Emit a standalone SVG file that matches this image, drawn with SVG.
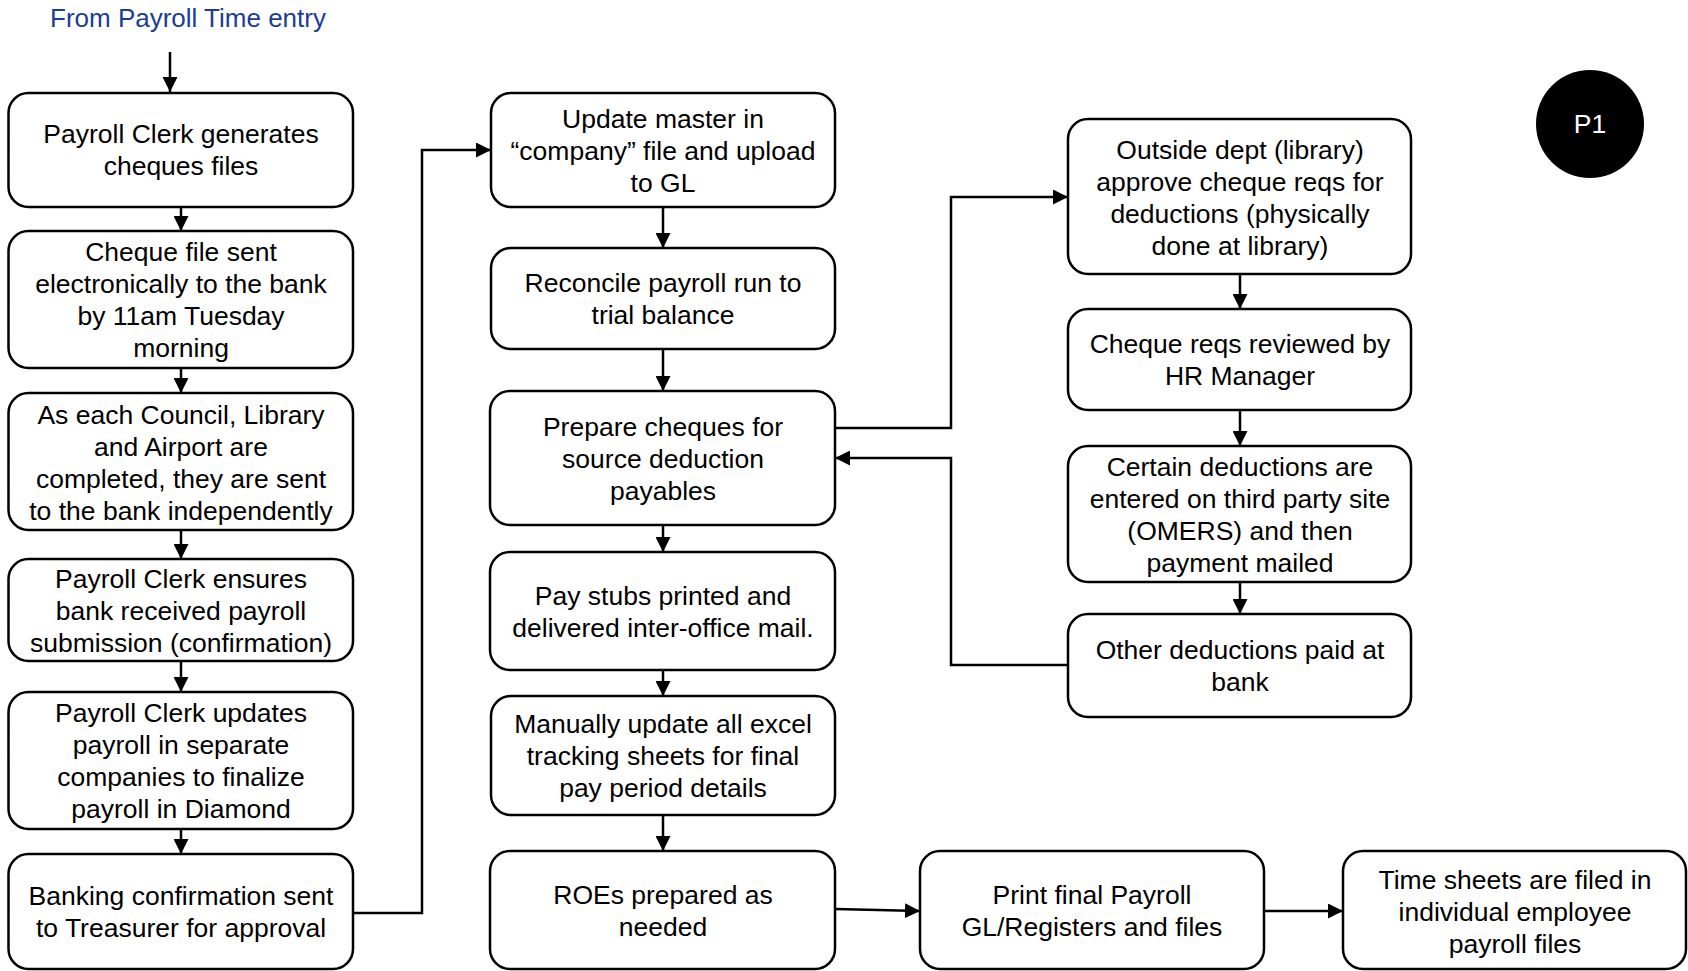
<svg xmlns="http://www.w3.org/2000/svg" width="1688" height="971" viewBox="0 0 1688 971">
  <style>
    .box { fill: #ffffff; stroke: #000000; stroke-width: 2.5; }
    .lbl { font-family: "Liberation Sans", Arial, sans-serif; font-size: 26.5px; fill: #000000; text-anchor: middle; }
    .title { font-family: "Liberation Sans", Arial, sans-serif; font-size: 26px; fill: #1b3d96; text-anchor: middle; }
    .conn { fill: none; stroke: #000000; stroke-width: 2.5; marker-end: url(#arrow); }
    .plain { fill: none; stroke: #000000; stroke-width: 2.5; }
  </style>
  <defs>
    <marker id="arrow" markerUnits="userSpaceOnUse" markerWidth="15" markerHeight="15" refX="15" refY="7.5" orient="auto">
      <path d="M0,0 L15,7.5 L0,15 z" fill="#000000"/>
    </marker>
  </defs>
  <rect width="1688" height="971" fill="#ffffff"/>

  <text class="title" x="188" y="27">From Payroll Time entry</text>

  <!-- connectors -->
  <g id="connectors">
    <line class="conn" x1="170" y1="52" x2="170" y2="92"/>
    <line class="conn" x1="181" y1="207" x2="181" y2="231"/>
    <line class="conn" x1="181" y1="368" x2="181" y2="393"/>
    <line class="conn" x1="181" y1="530" x2="181" y2="559"/>
    <line class="conn" x1="181" y1="661" x2="181" y2="692"/>
    <line class="conn" x1="181" y1="829" x2="181" y2="854"/>
    <polyline class="conn" points="353,913 422,913 422,150 491,150"/>
    <line class="conn" x1="663" y1="207" x2="663" y2="248"/>
    <line class="conn" x1="663" y1="349" x2="663" y2="391"/>
    <line class="conn" x1="663" y1="525" x2="663" y2="552"/>
    <line class="conn" x1="663" y1="670" x2="663" y2="696"/>
    <line class="conn" x1="663" y1="815" x2="663" y2="851"/>
    <polyline class="conn" points="835,428 951,428 951,197 1068,197"/>
    <polyline class="conn" points="1068,665 951,665 951,458 835,458"/>
    <line class="conn" x1="1240" y1="274" x2="1240" y2="309"/>
    <line class="conn" x1="1240" y1="410" x2="1240" y2="446"/>
    <line class="conn" x1="1240" y1="582" x2="1240" y2="614"/>
    <line class="conn" x1="835" y1="909" x2="920" y2="911"/>
    <line class="conn" x1="1264" y1="911" x2="1343" y2="911"/>
  </g>

  <!-- left column -->
  <g id="generate-cheques">
    <rect class="box" x="8.5" y="93" width="344.5" height="114" rx="20"/>
    <text class="lbl" x="181" y="143">Payroll Clerk generates</text>
    <text class="lbl" x="181" y="175">cheques files</text>
  </g>
  <g id="send-cheque-file">
    <rect class="box" x="8.5" y="231" width="344.5" height="137" rx="20"/>
    <text class="lbl" x="181" y="261">Cheque file sent</text>
    <text class="lbl" x="181" y="293">electronically to the bank</text>
    <text class="lbl" x="181" y="325">by 11am Tuesday</text>
    <text class="lbl" x="181" y="357">morning</text>
  </g>
  <g id="send-independently">
    <rect class="box" x="8.5" y="393" width="344.5" height="137" rx="20"/>
    <text class="lbl" x="181" y="424">As each Council, Library</text>
    <text class="lbl" x="181" y="456">and Airport are</text>
    <text class="lbl" x="181" y="488">completed, they are sent</text>
    <text class="lbl" x="181" y="520">to the bank independently</text>
  </g>
  <g id="ensure-received">
    <rect class="box" x="8.5" y="559" width="344.5" height="102" rx="20"/>
    <text class="lbl" x="181" y="588">Payroll Clerk ensures</text>
    <text class="lbl" x="181" y="620">bank received payroll</text>
    <text class="lbl" x="181" y="652">submission (confirmation)</text>
  </g>
  <g id="update-companies">
    <rect class="box" x="8.5" y="692" width="344.5" height="137" rx="20"/>
    <text class="lbl" x="181" y="722">Payroll Clerk updates</text>
    <text class="lbl" x="181" y="754">payroll in separate</text>
    <text class="lbl" x="181" y="786">companies to finalize</text>
    <text class="lbl" x="181" y="818">payroll in Diamond</text>
  </g>
  <g id="banking-confirmation">
    <rect class="box" x="8.5" y="854" width="344.5" height="115" rx="20"/>
    <text class="lbl" x="181" y="905">Banking confirmation sent</text>
    <text class="lbl" x="181" y="937">to Treasurer for approval</text>
  </g>

  <!-- middle column -->
  <g id="update-master">
    <rect class="box" x="491" y="93" width="344" height="114" rx="20"/>
    <text class="lbl" x="663" y="128">Update master in</text>
    <text class="lbl" x="663" y="160">“company” file and upload</text>
    <text class="lbl" x="663" y="192">to GL</text>
  </g>
  <g id="reconcile">
    <rect class="box" x="491" y="248" width="344" height="101" rx="20"/>
    <text class="lbl" x="663" y="292">Reconcile payroll run to</text>
    <text class="lbl" x="663" y="324">trial balance</text>
  </g>
  <g id="prepare-cheques">
    <rect class="box" x="490" y="391" width="345" height="134" rx="20"/>
    <text class="lbl" x="663" y="436">Prepare cheques for</text>
    <text class="lbl" x="663" y="468">source deduction</text>
    <text class="lbl" x="663" y="500">payables</text>
  </g>
  <g id="pay-stubs">
    <rect class="box" x="490" y="552" width="345" height="118" rx="20"/>
    <text class="lbl" x="663" y="605">Pay stubs printed and</text>
    <text class="lbl" x="663" y="637">delivered inter-office mail.</text>
  </g>
  <g id="tracking-sheets">
    <rect class="box" x="491" y="696" width="344" height="119" rx="20"/>
    <text class="lbl" x="663" y="733">Manually update all excel</text>
    <text class="lbl" x="663" y="765">tracking sheets for final</text>
    <text class="lbl" x="663" y="797">pay period details</text>
  </g>
  <g id="roes">
    <rect class="box" x="490" y="851" width="345" height="118" rx="20"/>
    <text class="lbl" x="663" y="904">ROEs prepared as</text>
    <text class="lbl" x="663" y="936">needed</text>
  </g>

  <!-- right column -->
  <g id="outside-dept">
    <rect class="box" x="1068" y="119" width="343" height="155" rx="20"/>
    <text class="lbl" x="1240" y="159">Outside dept (library)</text>
    <text class="lbl" x="1240" y="191">approve cheque reqs for</text>
    <text class="lbl" x="1240" y="223">deductions (physically</text>
    <text class="lbl" x="1240" y="255">done at library)</text>
  </g>
  <g id="hr-review">
    <rect class="box" x="1068" y="309" width="343" height="101" rx="20"/>
    <text class="lbl" x="1240" y="353">Cheque reqs reviewed by</text>
    <text class="lbl" x="1240" y="385">HR Manager</text>
  </g>
  <g id="third-party">
    <rect class="box" x="1068" y="446" width="343" height="136" rx="20"/>
    <text class="lbl" x="1240" y="476">Certain deductions are</text>
    <text class="lbl" x="1240" y="508">entered on third party site</text>
    <text class="lbl" x="1240" y="540">(OMERS) and then</text>
    <text class="lbl" x="1240" y="572">payment mailed</text>
  </g>
  <g id="paid-at-bank">
    <rect class="box" x="1068" y="614" width="343" height="103" rx="20"/>
    <text class="lbl" x="1240" y="659">Other deductions paid at</text>
    <text class="lbl" x="1240" y="691">bank</text>
  </g>

  <!-- bottom row -->
  <g id="print-final">
    <rect class="box" x="920" y="851" width="344" height="118" rx="20"/>
    <text class="lbl" x="1092" y="904">Print final Payroll</text>
    <text class="lbl" x="1092" y="936">GL/Registers and files</text>
  </g>
  <g id="file-timesheets">
    <rect class="box" x="1343" y="851" width="343" height="118" rx="20"/>
    <text class="lbl" x="1515" y="889">Time sheets are filed in</text>
    <text class="lbl" x="1515" y="921">individual employee</text>
    <text class="lbl" x="1515" y="953">payroll files</text>
  </g>

  <g id="page-marker">
    <circle cx="1590" cy="124" r="54" fill="#000000"/>
    <text x="1590" y="133" font-family="Liberation Sans, Arial, sans-serif" font-size="26.5px" fill="#ffffff" text-anchor="middle">P1</text>
  </g>
</svg>
